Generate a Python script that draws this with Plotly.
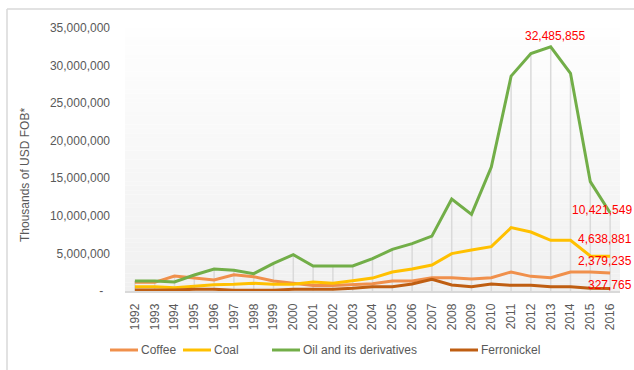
import plotly.graph_objects as go

# Colombian exports by product, thousands of USD FOB
years = [str(y) for y in range(1992, 2017)]
coffee = [1150000, 1150000, 2000000, 1770000, 1460000, 2170000, 1900000, 1330000, 1020000, 720000,
          720000, 800000, 960000, 1330000, 1330000, 1770000, 1770000, 1600000, 1770000, 2530000,
          1950000, 1770000, 2530000, 2530000, 2379235]
coal = [570000, 570000, 440000, 670000, 840000, 890000, 1020000, 890000, 890000, 1200000,
        1020000, 1370000, 1720000, 2530000, 2930000, 3460000, 4970000, 5460000, 5900000, 8430000,
        7850000, 6740000, 6740000, 4660000, 4638881]
oil = [1340000, 1340000, 1200000, 2130000, 2930000, 2750000, 2310000, 3680000, 4830000, 3330000,
       3330000, 3330000, 4300000, 5550000, 6300000, 7300000, 12250000, 10200000, 16500000, 28600000,
       31600000, 32485855, 28970000, 14550000, 10421549]
ferronickel = [130000, 130000, 120000, 230000, 230000, 100000, 100000, 100000, 230000, 230000,
               230000, 360000, 570000, 570000, 930000, 1550000, 800000, 570000, 930000, 750000,
               750000, 570000, 570000, 360000, 327765]

series_names = ["Coffee", "Coal", "Oil and its derivatives", "Ferronickel"]
series_values = [coffee, coal, oil, ferronickel]
series_colors = ["#F0904C", "#FFC000", "#72AE48", "#BF5E12"]

y_ticks = [0, 5000000, 10000000, 15000000, 20000000, 25000000, 30000000, 35000000]
y_ticktext = ["-\u00a0\u00a0"] + [f"{v:,}" for v in y_ticks[1:]]

FONT = "Liberation Sans, Arial, sans-serif"
GREY_TEXT = "#595959"

W, H = 634, 370
ML, MR, MT, MB = 125, 14, 28, 79
PW, PH = W - ML - MR, H - MT - MB


def px_x(x):
    return (x - ML) / PW


def px_y(y):
    return (H - MB - y) / PH


fig = go.Figure()

# drop lines from the highest series value down to the axis
drop_x, drop_y = [], []
for i, yr in enumerate(years):
    top = max(vals[i] for vals in series_values)
    drop_x += [yr, yr, None]
    drop_y += [0, top, None]
fig.add_trace(go.Scatter(x=drop_x, y=drop_y, mode="lines",
                         line=dict(color="#DADADA", width=1.5),
                         hoverinfo="skip", showlegend=False))

for name, vals, col in zip(series_names, series_values, series_colors):
    fig.add_trace(go.Scatter(x=years, y=vals, mode="lines", name=name,
                             line=dict(color=col, width=3), showlegend=False))

shapes = []
# plot area gradient, white at top fading to light grey
n_bands = 60
for k in range(n_bands):
    t = (k + 0.5) / n_bands  # 0 at bottom, 1 at top
    c = int(round(0xF0 + (0xFE - 0xF0) * t))
    shapes.append(dict(type="rect", xref="paper", yref="paper",
                       x0=0, x1=1, y0=k / n_bands, y1=(k + 1) / n_bands,
                       fillcolor=f"rgb({c},{c},{c})", line=dict(width=0), layer="below"))

# chart frame
shapes.append(dict(type="line", xref="paper", yref="paper",
                   x0=px_x(7), x1=px_x(640), y0=px_y(9), y1=px_y(9),
                   line=dict(color="#D9D9D9", width=1.5)))
shapes.append(dict(type="line", xref="paper", yref="paper",
                   x0=px_x(7), x1=px_x(7), y0=px_y(9), y1=px_y(380),
                   line=dict(color="#D9D9D9", width=1.5)))

annotations = []

# legend drawn as line samples with labels
legend_pos = [(110, 138), (183, 211), (272, 300), (450, 478)]
legend_y = 350
for (x0, x1), name, col in zip(legend_pos, series_names, series_colors):
    shapes.append(dict(type="line", xref="paper", yref="paper",
                       x0=px_x(x0), x1=px_x(x1), y0=px_y(legend_y), y1=px_y(legend_y),
                       line=dict(color=col, width=3)))
    annotations.append(dict(xref="paper", yref="paper", x=px_x(x1 + 1), y=px_y(legend_y),
                            xanchor="left", yanchor="middle", showarrow=False, text=name,
                            font=dict(family=FONT, size=12, color=GREY_TEXT)))

# axis title
annotations.append(dict(xref="paper", yref="paper", x=px_x(25), y=px_y(175), textangle=-90,
                        xanchor="center", yanchor="middle", showarrow=False,
                        text="Thousands of USD FOB*",
                        font=dict(family=FONT, size=12, color=GREY_TEXT)))

# value labels (category positions given by index)
RED = "#FF0000"
peak_i = oil.index(max(oil))
annotations.append(dict(x=peak_i, y=oil[peak_i], xref="x", yref="y",
                        text=f"{oil[peak_i]:,}", showarrow=False, xanchor="center",
                        yanchor="middle", xshift=4, yshift=11,
                        font=dict(family=FONT, size=12, color=RED)))
end_shifts = {"Oil and its derivatives": 3, "Coal": 17, "Coffee": 12, "Ferronickel": 4}
last_i = len(years) - 1
for name, vals in zip(series_names, series_values):
    annotations.append(dict(x=last_i, y=vals[-1], xref="x", yref="y",
                            text=f"{vals[-1]:,}", showarrow=False, xanchor="right",
                            yanchor="middle", xshift=24, yshift=end_shifts[name],
                            font=dict(family=FONT, size=12, color=RED)))

fig.update_layout(
    width=W, height=H,
    margin=dict(l=ML, r=MR, t=MT, b=MB),
    paper_bgcolor="white", plot_bgcolor="rgba(0,0,0,0)",
    font=dict(family=FONT, size=12, color=GREY_TEXT),
    shapes=shapes, annotations=annotations,
    showlegend=False,
)
fig.update_xaxes(type="category", range=[-0.5, len(years) - 0.5],
                 showgrid=False, zeroline=False, showline=True,
                 linecolor="#D9D9D9", linewidth=1.5, ticks="",
                 tickangle=-90, ticklabelstandoff=6,
                 tickfont=dict(family=FONT, size=12, color=GREY_TEXT))
fig.update_yaxes(range=[0, 35000000], tickvals=y_ticks, ticktext=y_ticktext,
                 showgrid=False, zeroline=False, showline=False, ticks="",
                 ticklabelstandoff=14,
                 tickfont=dict(family=FONT, size=12, color=GREY_TEXT))

fig.write_html("out.html")
